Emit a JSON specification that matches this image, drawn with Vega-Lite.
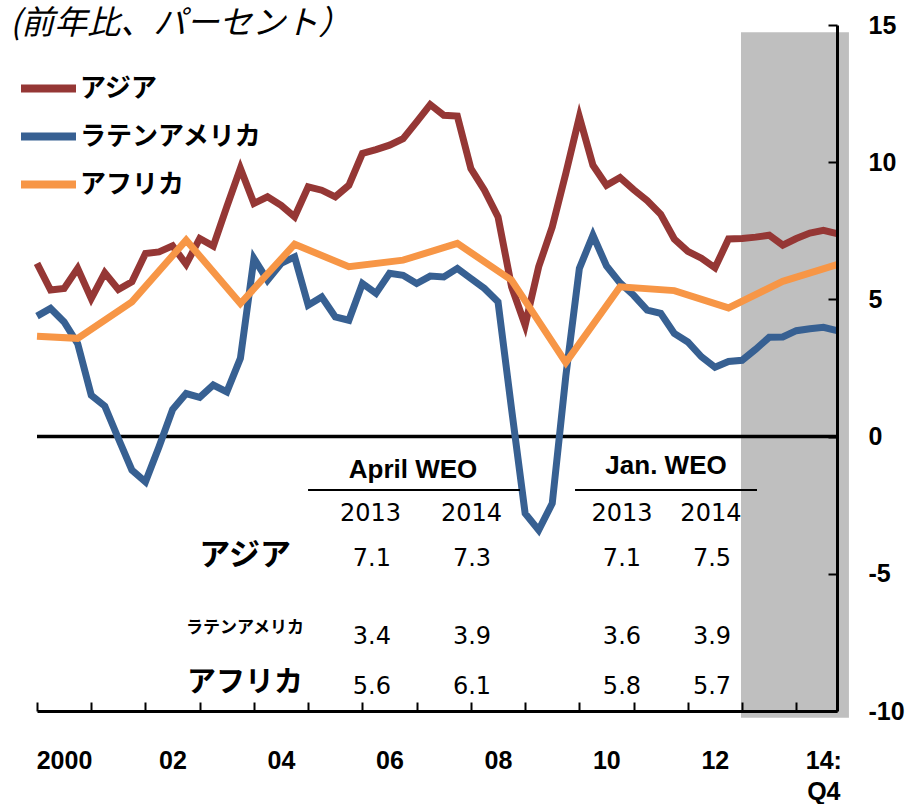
{
  "$schema": "https://vega.github.io/schema/vega-lite/v6.json",
  "width": 800,
  "height": 686,
  "autosize": {"type": "none"},
  "padding": {"left": 37, "top": 25, "right": 77, "bottom": 93},
  "background": "white",
  "title": {
    "text": "(前年比、パーセント）",
    "anchor": "start",
    "frame": "group",
    "orient": "top",
    "offset": 5,
    "dx": -27,
    "dy": 49,
    "baseline": "middle",
    "font": "Noto Sans CJK JP",
    "fontSize": 33,
    "fontStyle": "italic",
    "fontWeight": "normal",
    "color": "black"
  },
  "config": {"view": {"stroke": null}, "font": "Liberation Sans"},
  "datasets": {
    "series": [
      {"q": 0, "region": "アジア", "v": 6.31}, {"q": 1, "region": "アジア", "v": 5.34}, {"q": 2, "region": "アジア", "v": 5.40}, {"q": 3, "region": "アジア", "v": 6.13},
      {"q": 4, "region": "アジア", "v": 5.03}, {"q": 5, "region": "アジア", "v": 5.97}, {"q": 6, "region": "アジア", "v": 5.36}, {"q": 7, "region": "アジア", "v": 5.64},
      {"q": 8, "region": "アジア", "v": 6.67}, {"q": 9, "region": "アジア", "v": 6.73}, {"q": 10, "region": "アジア", "v": 6.95}, {"q": 11, "region": "アジア", "v": 6.28},
      {"q": 12, "region": "アジア", "v": 7.22}, {"q": 13, "region": "アジア", "v": 6.94}, {"q": 14, "region": "アジア", "v": 8.38}, {"q": 15, "region": "アジア", "v": 9.78},
      {"q": 16, "region": "アジア", "v": 8.50}, {"q": 17, "region": "アジア", "v": 8.74}, {"q": 18, "region": "アジア", "v": 8.43}, {"q": 19, "region": "アジア", "v": 8.01},
      {"q": 20, "region": "アジア", "v": 9.10}, {"q": 21, "region": "アジア", "v": 8.98}, {"q": 22, "region": "アジア", "v": 8.74}, {"q": 23, "region": "アジア", "v": 9.16},
      {"q": 24, "region": "アジア", "v": 10.32}, {"q": 25, "region": "アジア", "v": 10.46}, {"q": 26, "region": "アジア", "v": 10.62}, {"q": 27, "region": "アジア", "v": 10.86},
      {"q": 28, "region": "アジア", "v": 11.47}, {"q": 29, "region": "アジア", "v": 12.10}, {"q": 30, "region": "アジア", "v": 11.71}, {"q": 31, "region": "アジア", "v": 11.68},
      {"q": 32, "region": "アジア", "v": 9.77}, {"q": 33, "region": "アジア", "v": 8.98}, {"q": 34, "region": "アジア", "v": 8.01}, {"q": 35, "region": "アジア", "v": 5.46},
      {"q": 36, "region": "アジア", "v": 4.06}, {"q": 37, "region": "アジア", "v": 6.19}, {"q": 38, "region": "アジア", "v": 7.64}, {"q": 39, "region": "アジア", "v": 9.59},
      {"q": 40, "region": "アジア", "v": 11.65}, {"q": 41, "region": "アジア", "v": 9.89}, {"q": 42, "region": "アジア", "v": 9.16}, {"q": 43, "region": "アジア", "v": 9.44},
      {"q": 44, "region": "アジア", "v": 9.0}, {"q": 45, "region": "アジア", "v": 8.6}, {"q": 46, "region": "アジア", "v": 8.1}, {"q": 47, "region": "アジア", "v": 7.2},
      {"q": 48, "region": "アジア", "v": 6.75}, {"q": 49, "region": "アジア", "v": 6.5}, {"q": 50, "region": "アジア", "v": 6.15}, {"q": 51, "region": "アジア", "v": 7.2},
      {"q": 52, "region": "アジア", "v": 7.22}, {"q": 53, "region": "アジア", "v": 7.27}, {"q": 54, "region": "アジア", "v": 7.34}, {"q": 55, "region": "アジア", "v": 6.98},
      {"q": 56, "region": "アジア", "v": 7.22}, {"q": 57, "region": "アジア", "v": 7.42}, {"q": 58, "region": "アジア", "v": 7.52}, {"q": 59, "region": "アジア", "v": 7.40},

      {"q": 0, "region": "ラテンアメリカ", "v": 4.39}, {"q": 1, "region": "ラテンアメリカ", "v": 4.67}, {"q": 2, "region": "ラテンアメリカ", "v": 4.18}, {"q": 3, "region": "ラテンアメリカ", "v": 3.39},
      {"q": 4, "region": "ラテンアメリカ", "v": 1.51}, {"q": 5, "region": "ラテンアメリカ", "v": 1.11}, {"q": 6, "region": "ラテンアメリカ", "v": -0.07}, {"q": 7, "region": "ラテンアメリカ", "v": -1.22},
      {"q": 8, "region": "ラテンアメリカ", "v": -1.65}, {"q": 9, "region": "ラテンアメリカ", "v": -0.37}, {"q": 10, "region": "ラテンアメリカ", "v": 0.99}, {"q": 11, "region": "ラテンアメリカ", "v": 1.57},
      {"q": 12, "region": "ラテンアメリカ", "v": 1.43}, {"q": 13, "region": "ラテンアメリカ", "v": 1.88}, {"q": 14, "region": "ラテンアメリカ", "v": 1.63}, {"q": 15, "region": "ラテンアメリカ", "v": 2.85},
      {"q": 16, "region": "ラテンアメリカ", "v": 6.49}, {"q": 17, "region": "ラテンアメリカ", "v": 5.70}, {"q": 18, "region": "ラテンアメリカ", "v": 6.31}, {"q": 19, "region": "ラテンアメリカ", "v": 6.55},
      {"q": 20, "region": "ラテンアメリカ", "v": 4.79}, {"q": 21, "region": "ラテンアメリカ", "v": 5.09}, {"q": 22, "region": "ラテンアメリカ", "v": 4.36}, {"q": 23, "region": "ラテンアメリカ", "v": 4.24},
      {"q": 24, "region": "ラテンアメリカ", "v": 5.58}, {"q": 25, "region": "ラテンアメリカ", "v": 5.22}, {"q": 26, "region": "ラテンアメリカ", "v": 5.95}, {"q": 27, "region": "ラテンアメリカ", "v": 5.88},
      {"q": 28, "region": "ラテンアメリカ", "v": 5.58}, {"q": 29, "region": "ラテンアメリカ", "v": 5.85}, {"q": 30, "region": "ラテンアメリカ", "v": 5.82}, {"q": 31, "region": "ラテンアメリカ", "v": 6.13},
      {"q": 32, "region": "ラテンアメリカ", "v": 5.76}, {"q": 33, "region": "ラテンアメリカ", "v": 5.40}, {"q": 34, "region": "ラテンアメリカ", "v": 4.91}, {"q": 35, "region": "ラテンアメリカ", "v": 1.0},
      {"q": 36, "region": "ラテンアメリカ", "v": -2.80}, {"q": 37, "region": "ラテンアメリカ", "v": -3.41}, {"q": 38, "region": "ラテンアメリカ", "v": -2.43}, {"q": 39, "region": "ラテンアメリカ", "v": 2.2},
      {"q": 40, "region": "ラテンアメリカ", "v": 6.13}, {"q": 41, "region": "ラテンアメリカ", "v": 7.34}, {"q": 42, "region": "ラテンアメリカ", "v": 6.22}, {"q": 43, "region": "ラテンアメリカ", "v": 5.6},
      {"q": 44, "region": "ラテンアメリカ", "v": 5.15}, {"q": 45, "region": "ラテンアメリカ", "v": 4.61}, {"q": 46, "region": "ラテンアメリカ", "v": 4.49}, {"q": 47, "region": "ラテンアメリカ", "v": 3.76},
      {"q": 48, "region": "ラテンアメリカ", "v": 3.45}, {"q": 49, "region": "ラテンアメリカ", "v": 2.91}, {"q": 50, "region": "ラテンアメリカ", "v": 2.53}, {"q": 51, "region": "ラテンアメリカ", "v": 2.74},
      {"q": 52, "region": "ラテンアメリカ", "v": 2.78}, {"q": 53, "region": "ラテンアメリカ", "v": 3.18}, {"q": 54, "region": "ラテンアメリカ", "v": 3.62}, {"q": 55, "region": "ラテンアメリカ", "v": 3.63},
      {"q": 56, "region": "ラテンアメリカ", "v": 3.86}, {"q": 57, "region": "ラテンアメリカ", "v": 3.93}, {"q": 58, "region": "ラテンアメリカ", "v": 3.98}, {"q": 59, "region": "ラテンアメリカ", "v": 3.86},

      {"q": 0, "region": "アフリカ", "v": 3.66}, {"q": 3, "region": "アフリカ", "v": 3.58}, {"q": 7, "region": "アフリカ", "v": 4.91}, {"q": 11, "region": "アフリカ", "v": 7.16},
      {"q": 15, "region": "アフリカ", "v": 4.85}, {"q": 19, "region": "アフリカ", "v": 7.01}, {"q": 23, "region": "アフリカ", "v": 6.19}, {"q": 27, "region": "アフリカ", "v": 6.43},
      {"q": 31, "region": "アフリカ", "v": 7.04}, {"q": 35, "region": "アフリカ", "v": 5.70}, {"q": 39, "region": "アフリカ", "v": 2.70}, {"q": 43, "region": "アフリカ", "v": 5.46},
      {"q": 47, "region": "アフリカ", "v": 5.32}, {"q": 51, "region": "アフリカ", "v": 4.69}, {"q": 55, "region": "アフリカ", "v": 5.66}, {"q": 59, "region": "アフリカ", "v": 6.27}
    ],
    "shade": [{"start": 51.92, "end": 59.88, "top": 14.74, "bottom": -10.25}],
    "zero": [{"level": 0}],
    "underlines": [
      {"x1": 19.99, "x2": 35.62, "y": -1.95},
      {"x1": 39.68, "x2": 53.10, "y": -1.95}
    ],
    "table": [
      {"t": "April WEO", "x": 27.73, "y": -1.51, "role": "head"},
      {"t": "Jan. WEO", "x": 46.39, "y": -1.37, "role": "head"},
      {"t": "2013", "x": 24.6, "y": -3.08, "role": "num"},
      {"t": "2014", "x": 32.05, "y": -3.08, "role": "num"},
      {"t": "2013", "x": 43.14, "y": -3.08, "role": "num"},
      {"t": "2014", "x": 49.7, "y": -3.08, "role": "num"},
      {"t": "アジア", "x": 15.34, "y": -4.35, "role": "big1"},
      {"t": "7.1", "x": 24.7, "y": -4.72, "role": "num"},
      {"t": "7.3", "x": 32.08, "y": -4.72, "role": "num"},
      {"t": "7.1", "x": 43.14, "y": -4.72, "role": "num"},
      {"t": "7.5", "x": 49.78, "y": -4.72, "role": "num"},
      {"t": "ラテンアメリカ", "x": 15.34, "y": -6.98, "role": "small"},
      {"t": "3.4", "x": 24.7, "y": -7.56, "role": "num"},
      {"t": "3.9", "x": 32.08, "y": -7.56, "role": "num"},
      {"t": "3.6", "x": 43.14, "y": -7.56, "role": "num"},
      {"t": "3.9", "x": 49.78, "y": -7.56, "role": "num"},
      {"t": "アフリカ", "x": 15.34, "y": -8.98, "role": "big2"},
      {"t": "5.6", "x": 24.7, "y": -9.38, "role": "num"},
      {"t": "6.1", "x": 32.08, "y": -9.38, "role": "num"},
      {"t": "5.8", "x": 43.14, "y": -9.38, "role": "num"},
      {"t": "5.7", "x": 49.78, "y": -9.38, "role": "num"}
    ]
  },
  "layer": [
    {
      "data": {"name": "shade"},
      "mark": {"type": "rect", "color": "#BFBFBF", "clip": false},
      "encoding": {
        "x": {
          "field": "start", "type": "quantitative", "title": null,
          "scale": {"domain": [0, 59], "nice": false, "zero": false},
          "axis": {
            "values": [0, 4, 8, 12, 16, 20, 24, 28, 32, 36, 40, 44, 48, 52, 56],
            "labelExpr": "datum.value==0?'2000':datum.value==8?'02':datum.value==16?'04':datum.value==24?'06':datum.value==32?'08':datum.value==40?'10':datum.value==48?'12':datum.value==56?['14:','Q4']:''",
            "labelOffset": 27,
            "labelFont": "Liberation Sans", "labelFontSize": 25, "labelFontWeight": "bold", "labelColor": "black",
            "labelBaseline": "top", "labelLineHeight": 31, "labelPadding": 46,
            "labelOverlap": false, "labelFlush": false, "labelBound": false,
            "tickSize": -9, "tickColor": "black", "tickWidth": 2,
            "domainColor": "black", "domainWidth": 3,
            "grid": false, "title": null, "zindex": 1
          }
        },
        "x2": {"field": "end"},
        "y": {
          "field": "top", "type": "quantitative", "title": null,
          "scale": {"domain": [-10, 15], "nice": false, "zero": false},
          "axis": {
            "orient": "right",
            "values": [-10, -5, 0, 5, 10, 15],
            "labelExpr": "datum.value < 0 ? '-' + abs(datum.value) : '' + datum.value",
            "labelFont": "Liberation Sans", "labelFontSize": 25, "labelFontWeight": "bold", "labelColor": "black",
            "labelAlign": "left", "labelBaseline": "middle", "labelPadding": 40,
            "labelOverlap": false, "labelFlush": false, "labelBound": false,
            "tickSize": -9, "tickColor": "black", "tickWidth": 2,
            "domainColor": "black", "domainWidth": 3,
            "grid": false, "title": null, "zindex": 1
          }
        },
        "y2": {"field": "bottom"}
      }
    },
    {
      "data": {"name": "zero"},
      "mark": {"type": "rule", "color": "black", "strokeWidth": 3.5},
      "encoding": {
        "y": {"field": "level", "type": "quantitative", "title": null, "scale": {"domain": [-10, 15], "nice": false, "zero": false}}
      }
    },
    {
      "data": {"name": "series"},
      "mark": {"type": "line", "strokeWidth": 7, "strokeJoin": "miter"},
      "encoding": {
        "x": {"field": "q", "type": "quantitative", "title": null, "scale": {"domain": [0, 59], "nice": false, "zero": false}},
        "y": {"field": "v", "type": "quantitative", "title": null, "scale": {"domain": [-10, 15], "nice": false, "zero": false}},
        "color": {
          "field": "region", "type": "nominal",
          "scale": {"domain": ["アジア", "ラテンアメリカ", "アフリカ"], "range": ["#953735", "#376092", "#F79646"]},
          "legend": {
            "orient": "none", "legendX": -20, "legendY": 32, "title": null,
            "symbolType": "stroke", "symbolSize": 3025, "symbolStrokeWidth": 8,
            "labelFont": "Noto Sans CJK JP", "labelFontSize": 26, "labelFontWeight": "bold", "labelColor": "black",
            "labelOffset": 0, "rowPadding": 0, "labelLimit": 400
          }
        }
      }
    },
    {
      "data": {"name": "underlines"},
      "mark": {"type": "rule", "color": "black", "strokeWidth": 2},
      "encoding": {
        "x": {"field": "x1", "type": "quantitative", "title": null, "scale": {"domain": [0, 59], "nice": false, "zero": false}},
        "x2": {"field": "x2"},
        "y": {"field": "y", "type": "quantitative", "title": null, "scale": {"domain": [-10, 15], "nice": false, "zero": false}}
      }
    },
    {
      "data": {"name": "table"},
      "transform": [{"filter": "datum.role == 'head'"}],
      "mark": {"type": "text", "font": "Liberation Sans", "fontSize": 26, "fontWeight": "bold", "color": "black", "align": "center", "baseline": "alphabetic"},
      "encoding": {
        "x": {"field": "x", "type": "quantitative", "title": null, "scale": {"domain": [0, 59], "nice": false, "zero": false}},
        "y": {"field": "y", "type": "quantitative", "title": null, "scale": {"domain": [-10, 15], "nice": false, "zero": false}},
        "text": {"field": "t"}
      }
    },
    {
      "data": {"name": "table"},
      "transform": [{"filter": "datum.role == 'num'"}],
      "mark": {"type": "text", "font": "DejaVu Sans", "fontSize": 24, "fontWeight": "normal", "color": "black", "align": "center", "baseline": "alphabetic"},
      "encoding": {
        "x": {"field": "x", "type": "quantitative", "title": null, "scale": {"domain": [0, 59], "nice": false, "zero": false}},
        "y": {"field": "y", "type": "quantitative", "title": null, "scale": {"domain": [-10, 15], "nice": false, "zero": false}},
        "text": {"field": "t"}
      }
    },
    {
      "data": {"name": "table"},
      "transform": [{"filter": "datum.role == 'big1'"}],
      "mark": {"type": "text", "font": "Noto Sans CJK JP", "fontSize": 31, "fontWeight": "bold", "color": "black", "align": "center", "baseline": "middle"},
      "encoding": {
        "x": {"field": "x", "type": "quantitative", "title": null, "scale": {"domain": [0, 59], "nice": false, "zero": false}},
        "y": {"field": "y", "type": "quantitative", "title": null, "scale": {"domain": [-10, 15], "nice": false, "zero": false}},
        "text": {"field": "t"}
      }
    },
    {
      "data": {"name": "table"},
      "transform": [{"filter": "datum.role == 'big2'"}],
      "mark": {"type": "text", "font": "Noto Sans CJK JP", "fontSize": 29, "fontWeight": "bold", "color": "black", "align": "center", "baseline": "middle"},
      "encoding": {
        "x": {"field": "x", "type": "quantitative", "title": null, "scale": {"domain": [0, 59], "nice": false, "zero": false}},
        "y": {"field": "y", "type": "quantitative", "title": null, "scale": {"domain": [-10, 15], "nice": false, "zero": false}},
        "text": {"field": "t"}
      }
    },
    {
      "data": {"name": "table"},
      "transform": [{"filter": "datum.role == 'small'"}],
      "mark": {"type": "text", "font": "Noto Sans CJK JP", "fontSize": 17, "fontWeight": "bold", "color": "black", "align": "center", "baseline": "middle"},
      "encoding": {
        "x": {"field": "x", "type": "quantitative", "title": null, "scale": {"domain": [0, 59], "nice": false, "zero": false}},
        "y": {"field": "y", "type": "quantitative", "title": null, "scale": {"domain": [-10, 15], "nice": false, "zero": false}},
        "text": {"field": "t"}
      }
    }
  ]
}
